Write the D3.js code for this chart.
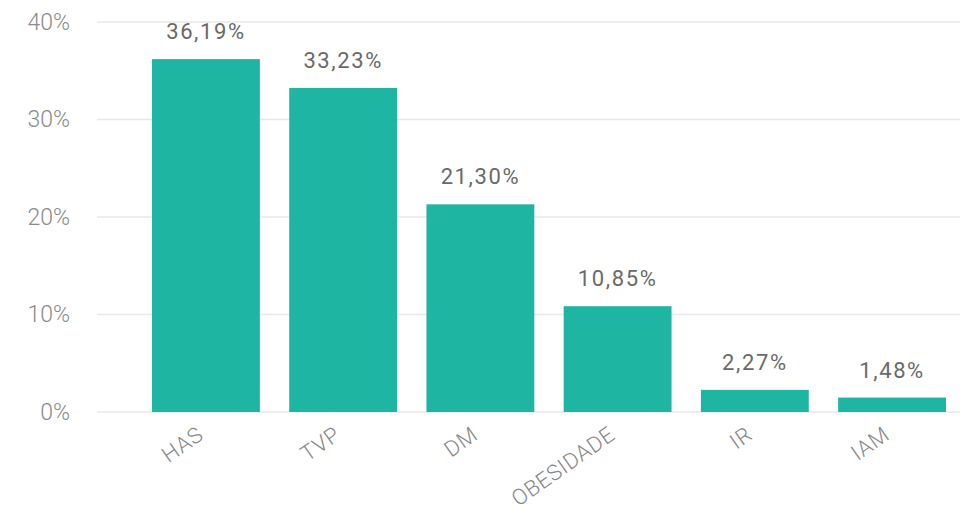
<!DOCTYPE html>
<html><head><meta charset="utf-8">
<script src="https://cdn.jsdelivr.net/npm/d3@7"></script>
<style>body{margin:0;background:#fff}svg{display:block}</style>
</head><body>
<svg id="c" width="967" height="515"></svg>
<script>
const categories = ["HAS","TVP","DM","OBESIDADE","IR","IAM"];
const values = [36.19, 33.23, 21.30, 10.85, 2.27, 1.48];
const valueLabels = ["36,19%","33,23%","21,30%","10,85%","2,27%","1,48%"];
const yTicks = [0, 10, 20, 30, 40];

const svg = d3.select("#c");
const font = "Roboto, 'DejaVu Sans', sans-serif";
const x = d3.scaleBand().domain(categories).range([152, 946]).paddingInner(0.214).paddingOuter(0);
const y = d3.scaleLinear().domain([0, 40]).range([412, 22]);

// gridlines
svg.append("g").selectAll("line").data(yTicks).join("line")
  .attr("x1", 97).attr("x2", 960)
  .attr("y1", d => y(d)).attr("y2", d => y(d))
  .attr("stroke", "#e8e8e8").attr("stroke-width", 1.5);

// y axis labels
const yAxis = d3.axisLeft(y).tickValues(yTicks).tickFormat(d => d + "%").tickSize(0).tickPadding(0);
const ga = svg.append("g").attr("transform", "translate(70,0)").call(yAxis);
ga.select(".domain").remove();
ga.selectAll("text").attr("font-family", font).attr("font-size", 23).attr("font-weight", 300).attr("fill", "#8a8a8a");

// bars
svg.append("g").selectAll("rect").data(values).join("rect")
  .attr("x", (d,i) => x(categories[i])).attr("width", x.bandwidth())
  .attr("y", d => y(d)).attr("height", d => y(0) - y(d))
  .attr("fill", "#1fb5a3");

// value labels
svg.append("g").selectAll("text").data(values).join("text")
  .attr("x", (d,i) => x(categories[i]) + x.bandwidth()/2)
  .attr("y", d => y(d) - 20)
  .attr("text-anchor", "middle")
  .attr("font-family", font).attr("font-size", 22).attr("letter-spacing", 1.6).attr("fill", "#6a6a6a")
  .text((d,i) => valueLabels[i]);

// x axis labels
const xAxis = d3.axisBottom(x).tickSize(0).tickPadding(0);
const gx = svg.append("g").attr("transform", "translate(0,412)").call(xAxis);
gx.select(".domain").remove();
gx.selectAll("text")
  .attr("font-family", font).attr("font-size", 22).attr("font-weight", 300).attr("fill", "#888")
  .attr("letter-spacing", 0.6)
  .attr("text-anchor", "end").attr("dy", null).attr("y", 0).attr("x", 0)
  .attr("transform", "translate(-1,26) rotate(-35)");
</script>
</body></html>
